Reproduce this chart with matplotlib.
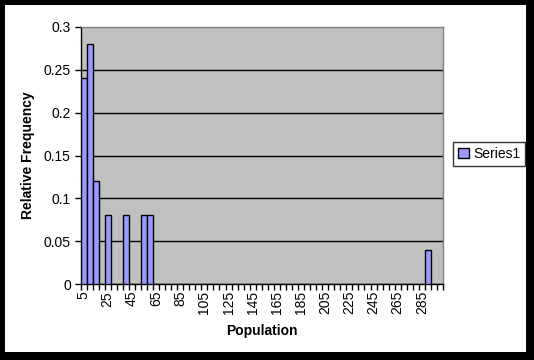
import matplotlib
matplotlib.use('Agg')
import matplotlib.pyplot as plt
from matplotlib.patches import Rectangle

plt.rcParams['font.family'] = ['Liberation Sans', 'DejaVu Sans']

# bins of the population histogram (upper bin edges)
categories = [5, 10, 15, 20, 25, 30, 35, 40, 45, 50,
              55, 60, 65, 70, 75, 80, 85, 90, 95, 100,
              105, 110, 115, 120, 125, 130, 135, 140, 145, 150,
              155, 160, 165, 170, 175, 180, 185, 190, 195, 200,
              205, 210, 215, 220, 225, 230, 235, 240, 245, 250,
              255, 260, 265, 270, 275, 280, 285, 290, 295, 300]
rel_freq = [0.24, 0.28, 0.12, 0, 0.08, 0, 0, 0.08, 0, 0,
            0.08, 0.08, 0, 0, 0, 0, 0, 0, 0, 0,
            0, 0, 0, 0, 0, 0, 0, 0, 0, 0,
            0, 0, 0, 0, 0, 0, 0, 0, 0, 0,
            0, 0, 0, 0, 0, 0, 0, 0, 0, 0,
            0, 0, 0, 0, 0, 0, 0, 0.04, 0, 0]
yticks = [0, 0.05, 0.1, 0.15, 0.2, 0.25, 0.3]
ytick_labels = ['0', '0.05', '0.1', '0.15', '0.2', '0.25', '0.3']

fig = plt.figure(figsize=(5.34, 3.6), dpi=100, facecolor='black')
fig.patches.append(Rectangle((5 / 534, 8 / 360), 521 / 534, 347 / 360,
                             transform=fig.transFigure, facecolor='white',
                             edgecolor='none', zorder=-10))

ax = fig.add_axes([80.5 / 534, 76 / 360, 362.5 / 534, 257 / 360])
ax.set_facecolor('#C0C0C0')

xs = list(range(len(categories)))
ax.bar(xs, rel_freq, width=1.0, color='#9999FF', edgecolor='black',
       linewidth=1.0, label='Series1', zorder=3)

ax.set_xlim(-0.5, len(categories) - 0.5)
ax.set_ylim(0, 0.3)
ax.set_yticks(yticks)
ax.set_yticklabels(ytick_labels, fontsize=10)
for y in yticks[1:-1]:
    ax.axhline(y, color='black', linewidth=1.0, zorder=1)

# labels every 4th bin, tick marks between bins
ax.set_xticks(xs[::4])
ax.set_xticklabels([str(c) for c in categories[::4]], rotation=90, fontsize=10)
ax.set_xticks([x - 0.5 for x in xs] + [xs[-1] + 0.5], minor=True)
ax.tick_params(axis='x', which='major', length=0, pad=5)
ax.tick_params(axis='x', which='minor', length=4, width=1, direction='out', color='black')
ax.tick_params(axis='y', length=4, width=1, direction='out', pad=3)

for side in ['left', 'bottom']:
    ax.spines[side].set_color('black')
    ax.spines[side].set_linewidth(1.0)
for side in ['top', 'right']:
    ax.spines[side].set_color('#808080')
    ax.spines[side].set_linewidth(1.0)

ax.set_xlabel('Population', fontsize=10, fontweight='bold', labelpad=7)
ax.set_ylabel('Relative Frequency', fontsize=10, fontweight='bold', labelpad=6)

leg = fig.legend(loc='center left', bbox_to_anchor=(453 / 534, 1 - 154 / 360),
                 fontsize=10, frameon=True, fancybox=False, handlelength=0.8,
                 handleheight=0.8, handletextpad=0.3, borderpad=0.35,
                 borderaxespad=0)
leg.get_frame().set_edgecolor('black')
leg.get_frame().set_linewidth(1.0)

fig.savefig('out.png', dpi=100, facecolor='black')
